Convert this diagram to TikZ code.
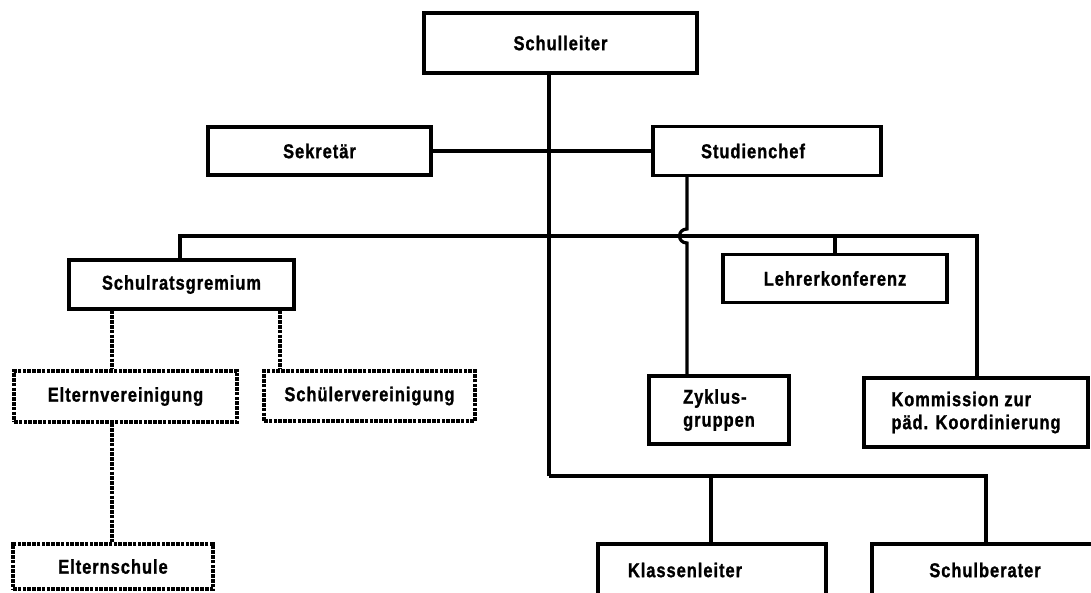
\documentclass[tikz,border=0pt]{standalone}
\usepackage{fontspec}
\newfontfamily\orgfont{Liberation Sans}[FakeStretch=0.82,LetterSpace=5,FakeBold=1.2]
\usetikzlibrary{calc}

\tikzset{
  orgbox/.style={draw=black, line width=3.2pt, fill=white, inner sep=0pt,
    font=\orgfont\bfseries\fontsize{20}{23}\selectfont},
  softbox/.style={orgbox, dash pattern=on 3.6pt off 1.2pt},
  lbl/.style={inner sep=0pt, font=\orgfont\bfseries\fontsize{20}{23}\selectfont},
  wire/.style={draw=black, line width=3.2pt},
  softwire/.style={wire, dash pattern=on 3.6pt off 1.2pt},
}

\begin{document}
\begin{tikzpicture}[x=1pt, y=-1pt]
  \useasboundingbox (0,0) rectangle (1091,592);
  \clip (0,0) rectangle (1091,592);

  % junction points of the connector buses
  \coordinate (busMid)  at (549,236);
  \coordinate (busLow)  at (549,476);
  \coordinate (hop)     at (687,236);
  \coordinate (dashA)   at (112,0);
  \coordinate (dashB)   at (280,0);

  % connectors (drawn first, boxes cover their ends)
  \draw[wire] (549,74) coordinate (slFoot) -- (busLow);
  \draw[wire] (busLow) -| (986,544) coordinate (sbTop);
  \draw[wire] (711,476) coordinate (klBus) -- (711,544) coordinate (klTop);
  \draw[wire] (180,260) coordinate (srTop) |- (busMid) -- (977,236) coordinate (koBus) -- (977,378) coordinate (koTop);
  \draw[wire] (835,236) coordinate (lkBus) -- (835,254) coordinate (lkTop);

  % boxes
  \node[orgbox, minimum width=273, minimum height=60] (schulleiter) at (560.5,43) {Schulleiter};
  \node[orgbox, minimum width=223, minimum height=48] (sekretaer) at (319.5,151) {Sekretär};
  \node[orgbox, minimum width=228, minimum height=49] (studienchef) at (767,151) {};
  \node[lbl] (studienchefT) at (753,151) {Studienchef};
  \node[orgbox, minimum width=225, minimum height=49] (schulrat) at (181.5,284.5) {Schulratsgremium};
  \node[orgbox, minimum width=224, minimum height=48] (lehrer) at (835,278.5) {Lehrerkonferenz};
  \node[softbox, minimum width=223, minimum height=51] (eltern) at (125.5,396.5) {Elternvereinigung};
  \node[softbox, minimum width=211, minimum height=50] (schueler) at (369.5,396) {Schülervereinigung};
  \node[orgbox, minimum width=140, minimum height=68, align=left] (zyklus) at (719,410) {Zyklus-\\gruppen};
  \node[orgbox, minimum width=224, minimum height=69, align=left] (kommission) at (976,412.5) {Kommission zur\\päd. Koordinierung};
  \node[softbox, minimum width=200, minimum height=45] (elternschule) at (113,566.5) {Elternschule};
  \node[orgbox, minimum width=228, minimum height=66] (klassen) at (712,577) {};
  \node[lbl] (klassenT) at (685,570) {Klassenleiter};
  \node[orgbox, minimum width=228, minimum height=66] (berater) at (986,577) {};
  \node[lbl] (beraterT) at (985,570) {Schulberater};

  % node-to-node connectors
  \draw[wire] (sekretaer.east) -- (studienchef.west);
  \draw[wire] (studienchef.south -| hop) -- ($(hop)+(0,-7)$)
    .. controls ($(hop)+(-10,-7)$) and ($(hop)+(-10,7)$) .. ($(hop)+(0,7)$)
    -- (zyklus.north -| hop);
  \draw[softwire] (schulrat.south -| dashA) -- (eltern.north -| dashA);
  \draw[softwire] (schulrat.south -| dashB) -- (schueler.north -| dashB);
  \draw[softwire] (eltern.south -| dashA) -- (elternschule.north -| dashA);
\end{tikzpicture}
\end{document}
